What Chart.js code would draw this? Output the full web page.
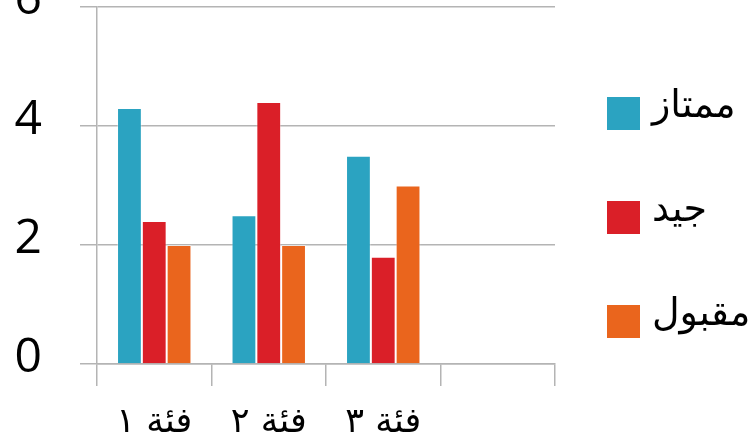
<!DOCTYPE html>
<html>
<head>
<meta charset="utf-8">
<script src="https://cdn.jsdelivr.net/npm/chart.js@4"></script>
<style>
  html, body { margin: 0; padding: 0; background: #fff; overflow: hidden; }
  #wrap { width: 748px; height: 502px; margin-top: -60px; }
</style>
</head>
<body>
<div id="wrap"><canvas id="g_notes"></canvas></div>
<script>
// categories (the 4th slot is empty in the original)
const categories = ['فئة ١', 'فئة ٢', 'فئة ٣', ''];
const seriesNames = ['ممتاز', 'جيد', 'مقبول'];
const mumtaz = [4.3, 2.5, 3.5];
const jayyid = [2.4, 4.4, 1.8];
const maqbul = [2, 2, 3];
const yTicks = [0, 2, 4, 6];

const colors = ['#2ba3c1', '#da1f28', '#ea651d'];
const gridColor = '#b4b4b4';

// legend drawn on the right, one item per dataset
const sideLegend = {
    id: 'sideLegend',
    afterDraw(chart) {
        const ctx = chart.ctx;
        ctx.save();
        ctx.font = '38px "DejaVu Sans"';
        ctx.textBaseline = 'middle';
        ctx.textAlign = 'left';
        chart.data.datasets.forEach((ds, i) => {
            const cy = 173 + i * 104;
            ctx.fillStyle = ds.backgroundColor;
            ctx.fillRect(607, cy - 16, 33, 33);
            ctx.fillStyle = '#000';
            ctx.fillText(ds.label, 652, cy - 6);
        });
        ctx.restore();
    }
};

function drawChart() {
    const context = document.getElementById('g_notes').getContext('2d');

    let datasets = [mumtaz, jayyid, maqbul].map((vals, i) => ({
        label: seriesNames[i],
        data: vals,
        backgroundColor: colors[i],
        borderColor: 'rgba(255,255,255,0.35)',
        borderWidth: 1,
        categoryPercentage: 0.65,
        barPercentage: 1
    }));

    let options = {
        responsive: true,
        maintainAspectRatio: false,
        animation: false,
        layout: { padding: { top: 7, right: 193, left: 0, bottom: 0 } },
        plugins: {
            legend: { display: false },
            tooltip: { enabled: false }
        },
        scales: {
            x: {
                offset: true,
                grid: {
                    offset: true,
                    drawOnChartArea: false,
                    color: gridColor,
                    lineWidth: 1.5,
                    tickLength: 22
                },
                border: { color: gridColor, width: 1.5 },
                ticks: {
                    color: '#000',
                    font: { family: '"DejaVu Sans"', size: 35 },
                    padding: 16,
                    maxRotation: 0
                },
                afterFit(scale) { scale.height = 78; }
            },
            y: {
                min: 0,
                max: 6,
                afterBuildTicks(scale) { scale.ticks = yTicks.map(v => ({ value: v })); },
                grid: {
                    color: gridColor,
                    lineWidth: 1.5,
                    tickLength: 17
                },
                border: { color: gridColor, width: 1.5 },
                ticks: {
                    color: '#000',
                    font: { family: '"Open Sans"', size: 48 },
                    padding: 38,
                    labelOffset: -6
                },
                afterFit(scale) { scale.width = 97; }
            }
        }
    };

    new Chart(context, {
        type: 'bar',
        data: { labels: categories, datasets: datasets },
        options: options,
        plugins: [sideLegend]
    });
}

window.addEventListener('load', () => {
    drawChart();
});
</script>
</body>
</html>
